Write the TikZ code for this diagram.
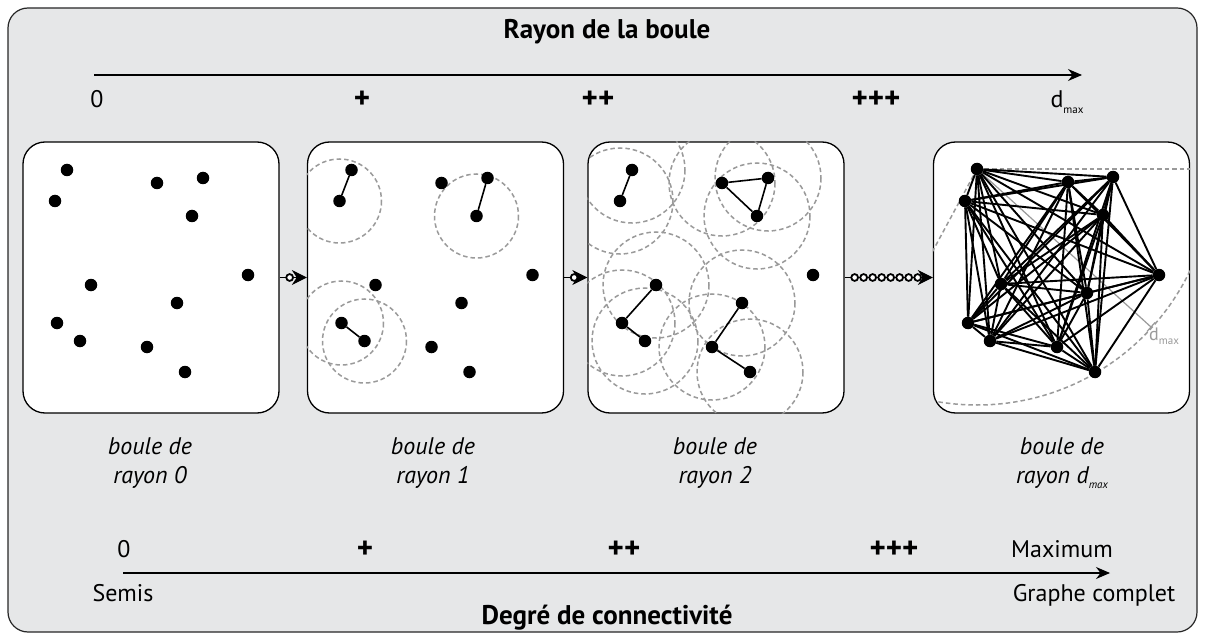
\documentclass[tikz,border=0pt]{standalone}
\usepackage{fontspec}
\setmainfont{PT Sans}
\usetikzlibrary{arrows.meta,decorations.markings,calc}

\definecolor{fond}{HTML}{E6E7E8}
\definecolor{trait}{HTML}{9A9A9A}

\newcommand{\dmax}{d\raisebox{-0.45ex}{\fontsize{11}{11}\selectfont max}}

\pgfdeclarelayer{back}
\pgfdeclarelayer{mid}
\pgfsetlayers{back,mid,main}

\tikzset{
  cadre/.style={draw=black!85, line width=1.2pt, fill=fond, rounded corners=20pt},
  panel/.style={draw, line width=1.3pt, fill=white, rounded corners=22pt,
    minimum width=256pt, minimum height=271pt, inner sep=0pt},
  dot/.style={circle, fill=black, inner sep=0pt, minimum size=12.5pt},
  ring/.style={draw=trait, dash pattern=on 4.5pt off 3pt, line width=1.5pt},
  lien/.style={line width=1.6pt},
  axe/.style={line width=1.3pt, -{Stealth[length=14pt,width=12pt]}},
  chain/.style={line width=1pt, -{Stealth[length=15pt,width=15pt]},
    postaction={decorate}, decoration={markings,
      mark=between positions 10pt and -12pt step 9pt with
        {\draw[line width=1.8pt, fill=white] (0,0) circle (3.4pt);}}},
  titre/.style={font=\fontsize{27}{30}\selectfont\bfseries, anchor=base},
  num/.style={font=\fontsize{24}{28}\selectfont, anchor=base},
  plus/.style={num, font=\fontsize{31}{34}\selectfont\bfseries},
  leg/.style={font=\fontsize{24}{29}\selectfont\itshape, align=center},
}

\begin{document}
\begin{tikzpicture}[x=1pt,y=-1pt]
  \useasboundingbox (0,0) rectangle (1205,639);
  \begin{pgfonlayer}{back}
    \draw[cadre] (8,8) rectangle (1197,632);
    \node[panel] (b0) at (151,277.5) {};
    \node[panel] (b1) at (435.5,277.5) {};
    \node[panel] (b2) at (716,277.5) {};
    \node[panel] (b3) at (1061.5,277.5) {};
  \end{pgfonlayer}

  % rayon de la boule
  \node[titre] (rb) at (607,39) {Rayon de la boule};
  \coordinate (r0) at (94,75);
  \coordinate (r1) at (1082,75);
  \draw[axe] (r0) -- (r1);
  \node[num] (rz) at (97,108) {0};
  \node[plus] (rp) at (362,109) {+};
  \node[plus] (rpp) at (598,109) {++};
  \node[plus] (rppp) at (876,109) {+++};
  \node[num] (rd) at (1067,108) {\dmax};

  % semis (boules 0, 1, 2)
  \foreach \n/\x/\y in {A/67/170, B/55/201, C/157/183, D/203/178, E/192/216, F/248/275,
      G/91/285, H/177/303, I/57/323, J/80/341, K/147/347, L/185/372} {
    \node[dot] (p0\n) at (\x,\y) {};
    \node[dot] (p1\n) at (\x+284.5,\y) {};
    \node[dot] (p2\n) at (\x+565,\y) {};
  }
  % graphe complet
  \foreach \n/\x/\y in {A/977/169, B/965/201, C/1068/182, D/1113/177, E/1103/215, F/1159/275,
      G/1001/284, H/1087/293, I/968/323, J/990/341, K/1057/347, L/1095/372}
    \node[dot] (p3\n) at (\x,\y) {};

  \begin{pgfonlayer}{mid}
    \begin{scope}
      \clip[rounded corners=22pt] (b1.south west) rectangle (b1.north east);
      \foreach \n in {B,E,I,J}
        \draw[ring] (p1\n) circle (42);
    \end{scope}
    \begin{scope}
      \clip[rounded corners=22pt] (b2.south west) rectangle (b2.north east);
      \foreach \n in {A,B,C,D,E,G,H,I,J,K,L}
        \draw[ring] (p2\n) circle (53);
    \end{scope}
    \begin{scope}
      \clip[rounded corners=22pt] (b3.south west) rectangle (b3.north east);
      \draw[ring] (p3A.center) -- ++(300,0);
      \draw[ring] (p3A.center) -- ++(-75,139);
      \draw[ring] (p3A.center) circle (236);
      \coordinate (dm) at (1151,327);
      \draw[trait, line width=1.2pt] (p3A.center) -- (dm);
      \draw[trait, line width=1.2pt] ($(dm)+(-4,4.5)$) -- ($(dm)+(4,-4.5)$);
    \end{scope}
  \end{pgfonlayer}
  \node[text=trait, font=\fontsize{18}{20}\selectfont, anchor=north west, inner sep=0pt]
    (dl) at (1149,328) {\dmax};

  \draw[lien] (p1A) -- (p1B);
  \draw[lien] (p1D) -- (p1E);
  \draw[lien] (p1I) -- (p1J);

  \draw[lien] (p2A) -- (p2B);
  \draw[lien] (p2C) -- (p2D) -- (p2E) -- (p2C);
  \draw[lien] (p2G) -- (p2I) -- (p2J);
  \draw[lien] (p2H) -- (p2K) -- (p2L);

  \foreach \a [count=\i] in {A,...,L} {
    \foreach \b [count=\j] in {A,...,L} {
      \ifnum\j>\i \draw[lien, line width=1.9pt] (p3\a) -- (p3\b); \fi
    }
  }

  \draw[chain] (b0.east) -- (b1.west);
  \draw[chain] (b1.east) -- (b2.west);
  \draw[chain] (b2.east) -- (b3.west);

  \node[leg] (l0) at (150,463) {boule de\\rayon 0};
  \node[leg] (l1) at (433,463) {boule de\\rayon 1};
  \node[leg] (l2) at (715,463) {boule de\\rayon 2};
  \node[leg] (l3) at (1062,463) {boule de\\rayon \dmax};

  % degre de connectivite
  \node[num] (cz) at (124,557) {0};
  \node[plus] (cp) at (365,558) {+};
  \node[plus] (cpp) at (624,558) {++};
  \node[plus] (cppp) at (894,558) {+++};
  \node[num] (cm) at (1062,557) {Maximum};
  \coordinate (d0) at (123,573);
  \coordinate (d1) at (1110,573);
  \draw[axe] (d0) -- (d1);
  \node[num] (cs) at (123,601) {Semis};
  \node[num] (cg) at (1094,601) {Graphe complet};
  \node[titre] (dc) at (607,624) {Degré de connectivité};
\end{tikzpicture}
\end{document}
